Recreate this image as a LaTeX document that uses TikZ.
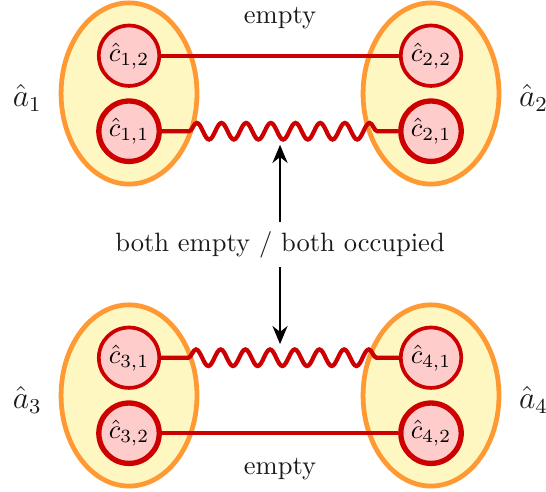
\documentclass[tikz,border=0pt]{standalone}
\usepackage{amsmath,amssymb}
\usepackage{tikz}
\usetikzlibrary{positioning,arrows.meta,shapes.geometric,decorations.pathmorphing}
\definecolor{GroupFill}{HTML}{FFF7C2}
\definecolor{GroupLine}{HTML}{FF9933}
\definecolor{SiteFill}{HTML}{FFCCCC}
\definecolor{SiteLine}{HTML}{CC0000}
\definecolor{TextDark}{HTML}{1A1A1A}

\tikzset{
  groupbox/.style={ellipse, draw=GroupLine, fill=GroupFill, line width=1.8pt,
    minimum width=1.8cm, minimum height=2.4cm, inner sep=0pt},
  site/.style={circle, draw=SiteLine, fill=SiteFill, line width=1.4pt,
    minimum size=0.8cm, inner sep=0pt},
  occsite/.style={site, line width=2pt},
  bond/.style={SiteLine, line width=1.6pt},
  wavybond/.style={bond, decorate, decoration={snake, amplitude=0.11cm,
    segment length=0.327cm, pre length=0.36cm, post length=0.25cm}},
  grouplabel/.style={font=\large, text=TextDark, yshift=-0.06cm}
}

\begin{document}
\begin{tikzpicture}[x=1cm,y=1cm]
  \useasboundingbox (-1.709,1.238) rectangle (5.523,-5.278);

  % groups
  \node[groupbox] (g1) at (0,0) {};
  \node[groupbox] (g2) at (4,0) {};
  \node[groupbox] (g3) at (0,-4) {};
  \node[groupbox] (g4) at (4,-4) {};

  \node[grouplabel, left=0.1cm of g1] (a1) {$\hat{a}_1$};
  \node[grouplabel, right=0.11cm of g2] (a2) {$\hat{a}_2$};
  \node[grouplabel, left=0.1cm of g3] (a3) {$\hat{a}_3$};
  \node[grouplabel, right=0.11cm of g4] (a4) {$\hat{a}_4$};

  % sites
  \node[site]    (c12) at (0,0.5)   {$\hat{c}_{1,2}$};
  \node[occsite] (c11) at (0,-0.5)  {$\hat{c}_{1,1}$};
  \node[site]    (c22) at (4,0.5)   {$\hat{c}_{2,2}$};
  \node[occsite] (c21) at (4,-0.5)  {$\hat{c}_{2,1}$};
  \node[site]    (c31) at (0,-3.5)  {$\hat{c}_{3,1}$};
  \node[occsite] (c32) at (0,-4.5)  {$\hat{c}_{3,2}$};
  \node[site]    (c41) at (4,-3.5)  {$\hat{c}_{4,1}$};
  \node[occsite] (c42) at (4,-4.5)  {$\hat{c}_{4,2}$};

  % bonds
  \draw[bond] (c12) -- (c22);
  \draw[wavybond] (c11) -- (c21);
  \draw[wavybond] (c31) -- (c41);
  \draw[bond] (c32) -- (c42);

  \node[text=TextDark] (topE) at (2,1.0) {empty};
  \node[text=TextDark] (botE) at (2,-4.98) {empty};

  % condition
  \node[text=TextDark] (cond) at (2,-2) {both empty / both occupied};
  \coordinate (tipA) at (2,-0.68);
  \coordinate (tipB) at (2,-3.32);
  \draw[-{Stealth[length=2.4mm,width=2mm]}, line width=0.9pt] (cond) -- (tipA);
  \draw[-{Stealth[length=2.4mm,width=2mm]}, line width=0.9pt] (cond) -- (tipB);
\end{tikzpicture}
\end{document}
